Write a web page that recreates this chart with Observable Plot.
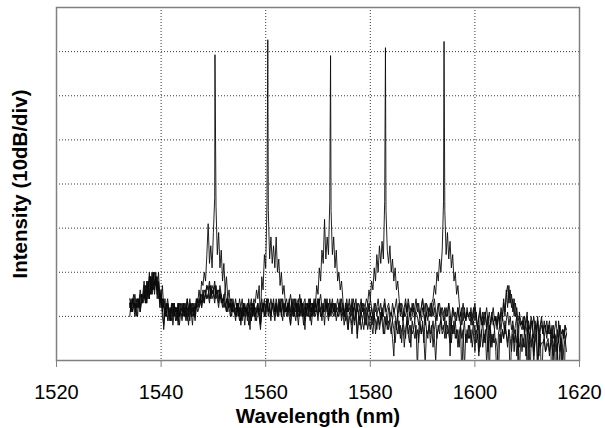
<!DOCTYPE html>
<html>
<head>
<meta charset="utf-8">
<script src="https://cdn.jsdelivr.net/npm/d3@7"></script>
<script src="https://cdn.jsdelivr.net/npm/@observablehq/plot@0.6"></script>
<style>
  html, body { margin: 0; padding: 0; background: #fff; }
  #chart { width: 605px; height: 428px; }
  svg { font-family: "Liberation Sans", Arial, sans-serif; }
</style>
</head>
<body>
<div id="chart"></div>
<script>
// Sampling grid of the spectra (nm)
const gridStart = 1534;
const gridStep = 0.25;

// Five superimposed spectra, level in dB (10 dB / div); each row = 5 nm
const trace1 = [
  -67,-69,-66,-68,-70,-67,-68,-66,-69,-67,-65,-66,-63,-67,-62,-66,-61,-65,-60,-64,
  -61,-66,-63,-68,-65,-70,-72,-68,-70,-67,-71,-69,-68,-70,-67,-71,-69,-68,-72,-69,
  -70,-67,-69,-71,-68,-70,-67,-69,-72,-68,-70,-66,-67,-64,-66,-62,-63,-60,-62,-56,
  -49,-58,-54,-59,-51,-43,-45,-56,-51,-59,-55,-62,-58,-64,-61,-66,-64,-68,-66,-69,
  -69,-71,-67,-70,-68,-72,-69,-67,-70,-68,-71,-69,-73,-68,-70,-67,-69,-71,-68,-70,
  -72,-69,-67,-70,-68,-66,-69,-68,-70,-67,-69,-71,-68,-70,-67,-69,-66,-68,-70,-67,
  -69,-67,-70,-72,-68,-66,-69,-71,-67,-70,-68,-66,-69,-72,-68,-70,-67,-69,-71,-68,
  -70,-67,-69,-68,-71,-66,-69,-70,-68,-72,-67,-69,-71,-68,-70,-67,-69,-68,-71,-69,
  -70,-68,-71,-69,-72,-70,-68,-73,-70,-71,-74,-70,-72,-69,-75,-71,-70,-73,-71,-69,
  -72,-70,-73,-71,-69,-72,-74,-70,-71,-73,-70,-72,-69,-71,-74,-70,-72,-71,-73,-70,
  -72,-75,-79,-71,-73,-70,-74,-72,-76,-71,-73,-75,-70,-74,-72,-77,-71,-73,-75,-72,
  -82,-73,-71,-74,-72,-76,-70,-73,-75,-71,-74,-72,-77,-73,-71,-75,-72,-74,-70,-73,
  -72,-75,-71,-74,-73,-70,-76,-72,-74,-71,-75,-73,-77,-72,-84,-74,-71,-76,-73,-75,
  -72,-76,-74,-71,-78,-73,-75,-72,-77,-74,-71,-76,-73,-81,-75,-72,-77,-74,-76,-73,
  -78,-85,-74,-72,-76,-73,-75,-71,-74,-77,-73,-86,-75,-72,-78,-74,-76,-73,-84,-75,
  -74,-77,-73,-79,-75,-72,-85,-76,-74,-78,-75,-73,-80,-76,-74,-87,-77,-75,-78,-76,
  -75,-79,-76,-88,-77,-74,-78,-76,-85,-77,-75,-79,-90,-76,-74
];
const trace2 = [
  -68,-66,-69,-67,-65,-68,-66,-67,-69,-65,-67,-64,-67,-62,-66,-61,-65,-60,-64,-62,
  -60,-65,-62,-67,-65,-69,-66,-70,-68,-67,-69,-71,-68,-67,-70,-68,-69,-67,-70,-68,
  -67,-69,-68,-70,-66,-69,-67,-68,-70,-67,-69,-66,-68,-67,-66,-68,-65,-67,-64,-66,
  -65,-63,-66,-64,-65,-63,-66,-65,-67,-64,-66,-68,-65,-67,-69,-66,-68,-67,-69,-66,
  -68,-70,-67,-69,-66,-68,-71,-67,-69,-68,-70,-67,-69,-71,-68,-66,-67,-64,-66,-63,
  -72,-61,-64,-56,-59,-44,-46,-57,-52,-58,-54,-59,-52,-60,-57,-63,-60,-65,-63,-67,
  -66,-69,-67,-65,-68,-70,-66,-68,-67,-69,-65,-68,-70,-67,-66,-69,-67,-68,-66,-70,
  -67,-69,-66,-68,-70,-67,-65,-68,-69,-66,-68,-67,-70,-66,-69,-68,-67,-70,-68,-66,
  -68,-66,-69,-67,-70,-68,-66,-69,-67,-68,-70,-66,-68,-69,-67,-70,-68,-66,-69,-67,
  -68,-70,-67,-69,-66,-68,-70,-67,-69,-68,-66,-69,-67,-70,-68,-66,-69,-68,-67,-69,
  -70,-67,-69,-68,-66,-70,-68,-67,-69,-71,-68,-66,-69,-67,-70,-68,-69,-67,-70,-68,
  -67,-69,-70,-68,-66,-69,-71,-67,-68,-70,-69,-67,-70,-68,-71,-69,-67,-70,-68,-69,
  -71,-68,-70,-69,-67,-79,-72,-68,-69,-71,-70,-68,-71,-69,-72,-70,-68,-71,-69,-70,
  -69,-72,-70,-68,-71,-69,-73,-70,-68,-71,-72,-69,-70,-73,-71,-84,-72,-70,-71,-73,
  -70,-72,-69,-71,-73,-70,-72,-74,-71,-69,-72,-70,-73,-71,-74,-72,-70,-73,-71,-72,
  -73,-71,-74,-72,-70,-73,-75,-72,-71,-82,-72,-73,-71,-75,-73,-72,-74,-71,-73,-75,
  -72,-74,-73,-76,-72,-74,-75,-80,-71,-74,-76,-73,-75,-72,-74
];
const trace3 = [
  -70,-67,-69,-66,-68,-67,-70,-66,-68,-65,-67,-66,-64,-67,-63,-66,-61,-65,-62,-60,
  -63,-61,-66,-64,-68,-66,-73,-69,-67,-71,-68,-70,-67,-72,-69,-68,-71,-67,-70,-69,
  -71,-68,-70,-67,-69,-72,-68,-70,-67,-69,-71,-68,-66,-68,-67,-65,-66,-64,-65,-63,
  -64,-62,-65,-63,-64,-66,-63,-65,-64,-66,-65,-67,-66,-68,-66,-69,-67,-68,-70,-67,
  -69,-68,-70,-67,-69,-71,-68,-70,-67,-69,-68,-72,-69,-67,-70,-68,-71,-69,-68,-70,
  -73,-69,-67,-70,-68,-66,-69,-67,-70,-68,-66,-69,-67,-70,-68,-66,-69,-71,-67,-69,
  -68,-70,-67,-72,-69,-68,-70,-66,-69,-72,-68,-70,-67,-69,-73,-68,-70,-67,-69,-72,
  -68,-66,-68,-63,-65,-59,-62,-55,-58,-48,-57,-52,-56,-44,-46,-56,-52,-59,-55,-62,
  -60,-64,-62,-66,-70,-68,-71,-73,-69,-70,-72,-68,-71,-69,-74,-70,-72,-69,-71,-73,
  -70,-72,-69,-71,-73,-70,-72,-69,-74,-71,-70,-73,-71,-69,-72,-74,-70,-73,-71,-72,
  -74,-71,-73,-76,-72,-74,-71,-75,-73,-72,-77,-73,-71,-74,-76,-72,-74,-73,-71,-75,
  -73,-76,-72,-74,-71,-75,-81,-73,-74,-72,-76,-73,-71,-75,-80,-74,-73,-72,-71,-74,
  -73,-71,-75,-72,-74,-76,-72,-74,-71,-75,-73,-77,-74,-72,-75,-73,-82,-74,-76,-72,
  -75,-73,-77,-74,-72,-76,-74,-79,-75,-73,-77,-74,-76,-72,-78,-75,-73,-77,-74,-76,
  -75,-77,-84,-74,-76,-73,-75,-72,-74,-76,-73,-75,-78,-74,-76,-73,-79,-75,-77,-74,
  -78,-75,-77,-74,-83,-76,-74,-77,-75,-79,-76,-74,-84,-75,-77,-76,-76,-75,-78,-77,
  -76,-78,-75,-77,-79,-76,-86,-77,-75,-78,-76,-82,-77,-75,-78
];
const trace4 = [
  -66,-68,-67,-65,-69,-66,-68,-67,-64,-66,-65,-62,-66,-63,-65,-60,-64,-62,-60,-63,
  -61,-64,-62,-66,-64,-68,-67,-70,-68,-66,-69,-71,-68,-70,-67,-69,-68,-71,-67,-69,
  -68,-70,-67,-69,-71,-68,-66,-69,-68,-70,-67,-68,-66,-67,-65,-67,-64,-66,-65,-63,
  -64,-66,-63,-65,-64,-62,-65,-64,-66,-63,-65,-67,-66,-64,-67,-66,-68,-66,-69,-67,
  -68,-66,-69,-67,-70,-68,-66,-69,-72,-68,-67,-70,-68,-66,-69,-67,-70,-68,-67,-69,
  -67,-69,-68,-66,-69,-67,-70,-68,-66,-68,-67,-69,-66,-68,-70,-67,-69,-66,-68,-67,
  -69,-67,-68,-70,-66,-69,-67,-68,-70,-67,-69,-66,-68,-70,-67,-69,-68,-66,-69,-67,
  -68,-70,-67,-69,-66,-68,-70,-67,-69,-68,-66,-69,-67,-70,-68,-66,-69,-67,-68,-70,
  -67,-69,-66,-68,-70,-67,-69,-68,-66,-69,-67,-70,-68,-66,-69,-67,-68,-70,-67,-69,
  -68,-66,-67,-64,-66,-62,-64,-59,-62,-56,-60,-54,-58,-53,-57,-44,-46,-55,-58,-54,
  -60,-57,-62,-59,-64,-62,-66,-69,-67,-68,-70,-67,-69,-66,-68,-70,-67,-69,-68,-66,
  -69,-67,-70,-68,-66,-69,-67,-70,-68,-69,-67,-70,-68,-66,-69,-71,-68,-67,-70,-68,
  -69,-71,-68,-70,-67,-69,-72,-68,-70,-69,-71,-68,-70,-72,-69,-67,-70,-71,-69,-70,
  -71,-69,-72,-70,-68,-71,-73,-70,-69,-72,-70,-71,-69,-72,-70,-73,-71,-69,-72,-70,
  -71,-73,-70,-72,-69,-71,-67,-70,-64,-68,-63,-67,-65,-69,-66,-70,-68,-71,-70,-72,
  -71,-73,-70,-72,-74,-71,-73,-70,-72,-75,-71,-73,-70,-74,-72,-71,-73,-75,-72,-74,
  -73,-71,-74,-72,-75,-73,-71,-74,-76,-72,-74,-73,-75,-72,-73
];
const trace5 = [
  -67,-69,-66,-68,-67,-70,-66,-68,-65,-67,-66,-63,-67,-64,-62,-66,-61,-64,-62,-65,
  -61,-64,-60,-66,-67,-63,-68,-66,-70,-67,-69,-68,-71,-67,-69,-70,-68,-72,-69,-67,
  -69,-67,-70,-68,-66,-69,-71,-67,-69,-68,-70,-67,-69,-68,-66,-68,-66,-67,-65,-66,
  -65,-67,-64,-66,-65,-67,-64,-66,-68,-65,-67,-66,-68,-67,-69,-66,-68,-70,-67,-69,
  -68,-70,-67,-69,-71,-68,-70,-67,-69,-68,-70,-66,-69,-71,-67,-70,-68,-69,-67,-70,
  -68,-66,-69,-67,-70,-68,-66,-69,-71,-67,-68,-70,-67,-69,-66,-68,-70,-67,-69,-68,
  -70,-68,-66,-69,-67,-70,-68,-69,-67,-66,-70,-68,-67,-69,-71,-67,-68,-70,-66,-69,
  -67,-69,-70,-68,-66,-69,-68,-71,-67,-69,-68,-66,-70,-68,-67,-69,-70,-67,-69,-68,
  -69,-67,-70,-68,-69,-71,-67,-69,-68,-70,-66,-69,-67,-70,-68,-69,-71,-67,-69,-68,
  -70,-68,-69,-67,-70,-68,-71,-69,-67,-70,-68,-69,-71,-68,-70,-67,-69,-71,-68,-70,
  -69,-71,-68,-70,-72,-69,-67,-70,-68,-71,-69,-70,-68,-72,-69,-71,-70,-68,-71,-69,
  -70,-72,-69,-71,-68,-70,-72,-69,-71,-68,-70,-67,-66,-63,-65,-60,-62,-57,-60,-55,
  -44,-46,-56,-51,-57,-53,-59,-56,-62,-60,-65,-63,-67,-70,-68,-71,-69,-71,-68,-70,
  -70,-68,-71,-69,-67,-70,-72,-78,-70,-71,-69,-72,-70,-68,-71,-69,-72,-70,-68,-71,
  -70,-72,-69,-71,-68,-70,-66,-69,-65,-63,-67,-64,-68,-66,-70,-67,-70,-80,-69,-71,
  -72,-70,-73,-71,-69,-83,-74,-71,-73,-70,-72,-74,-71,-79,-72,-70,-74,-72,-73,-71,
  -74,-72,-75,-73,-84,-74,-76,-73,-75,-72,-81,-77,-73,-75,-74
];

// Laser lines: one per spectrum
const peakWavelengths = [1550.3, 1560.4, 1572.4, 1582.9, 1594.1];
const peakLevels = [-10.7, -7.3, -10.9, -9.1, -7.7];

// Axis ticks and grid
const xTicks = [1520, 1540, 1560, 1580, 1600, 1620];
const xGrid = [1540, 1560, 1580, 1600];
const yGrid = [-70, -60, -50, -40, -30, -20, -10];

const traces = [trace1, trace2, trace3, trace4, trace5];
const rows = traces.flatMap((vals, k) => {
  const pts = vals.map((v, i) => ({trace: k, wl: gridStart + i * gridStep, db: v}));
  pts.push({trace: k, wl: peakWavelengths[k], db: peakLevels[k]});
  pts.sort((a, b) => a.wl - b.wl);
  return pts;
});

const chart = Plot.plot({
  width: 605,
  height: 428,
  marginLeft: 56,
  marginRight: 26,
  marginTop: 7,
  marginBottom: 68,
  style: {fontFamily: "Liberation Sans, Arial, sans-serif", background: "#fff"},
  x: {domain: [1520, 1620]},
  y: {domain: [-80, 0], axis: null},
  marks: [
    Plot.gridX(xGrid, {stroke: "#222", strokeOpacity: 0.9, strokeDasharray: "1,2", strokeWidth: 1}),
    Plot.gridY(yGrid, {stroke: "#222", strokeOpacity: 0.9, strokeDasharray: "1,2", strokeWidth: 1}),
    Plot.line(rows, {x: "wl", y: "db", z: "trace", stroke: "#0a0a0a", strokeWidth: 0.9, clip: true}),
    Plot.frame({stroke: "#808080", strokeWidth: 1.5}),
    Plot.axisX(xTicks, {tickSize: 7, tickPadding: 17, fontSize: 20, stroke: "#808080", fill: "#000", label: null, tickFormat: (d) => String(d)}),
    Plot.text(["Wavelength (nm)"], {frameAnchor: "bottom", lineAnchor: "bottom", dy: 62, fontSize: 20.5, fontWeight: "bold", fill: "#000"}),
    Plot.text(["Intensity (10dB/div)"], {frameAnchor: "left", textAnchor: "middle", lineAnchor: "bottom", rotate: -90, dx: -30, fontSize: 20.5, fontWeight: "bold", fill: "#000"})
  ]
});
document.getElementById("chart").appendChild(chart);
</script>
</body>
</html>
